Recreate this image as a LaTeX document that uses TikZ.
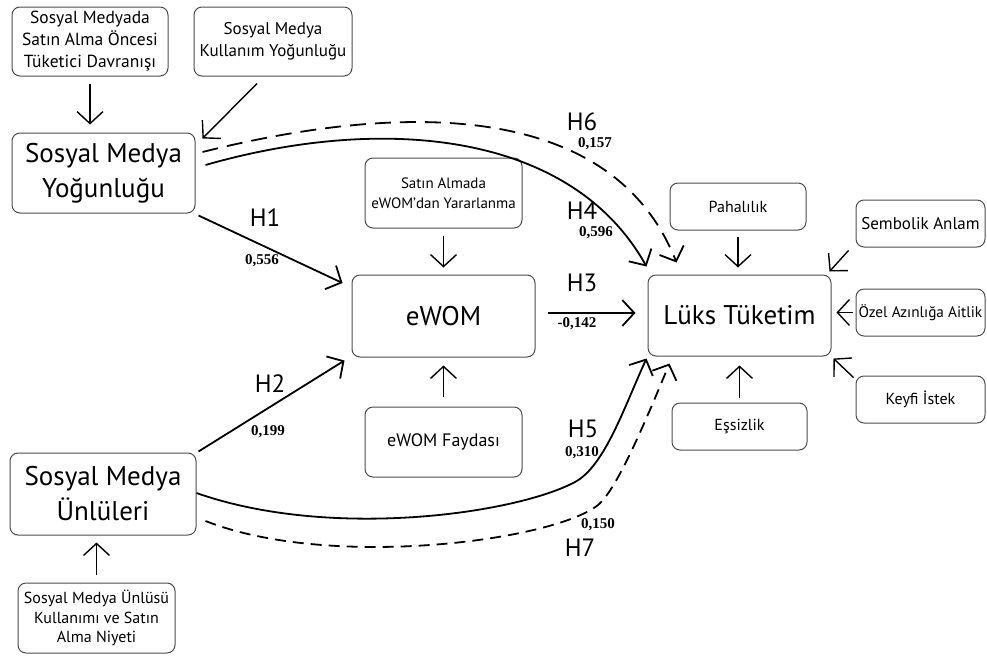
\documentclass[tikz,border=0pt]{standalone}
\usepackage{fontspec}
\setmainfont{PT Sans}
\newfontfamily\numfont{Liberation Serif}
\usetikzlibrary{arrows.meta,calc}

\begin{document}
\begin{tikzpicture}[x=1pt,y=-1pt,
  box/.style={draw=black!70,line width=1pt,rounded corners=8pt,align=center,inner sep=0pt},
  big/.style={box,font=\fontsize{27}{35}\selectfont},
  small/.style={box,font=\fontsize{16}{21}\selectfont},
  smaller/.style={box,font=\fontsize{15}{19.5}\selectfont},
  hyp/.style={font=\fontsize{25}{25}\selectfont,inner sep=0pt},
  coef/.style={font=\numfont\bfseries\fontsize{15}{15}\selectfont,inner sep=0pt},
  tip/.style={-{Straight Barb[length=12pt,width=26pt]}},
  link/.style={tip,line width=1.8pt},
  feed/.style={tip,line width=1.4pt},
]
\useasboundingbox (0,0) rectangle (987,656);

% constructs
\node[small,font=\fontsize{17.5}{22}\selectfont,minimum width=156pt,minimum height=69pt] (pre) at (90,41.5) {Sosyal Medyada\\Satın Alma Öncesi\\Tüketici Davranışı};
\node[small,font=\fontsize{17}{22}\selectfont,minimum width=158pt,minimum height=69pt] (kul) at (273,41.5) {Sosyal Medya\\Kullanım Yoğunluğu};
\node[big,minimum width=183pt,minimum height=80pt] (smy) at (103.5,173) {Sosyal Medya\\Yoğunluğu};
\node[big,minimum width=183pt,minimum height=82pt] (ewom) at (443.5,316) {eWOM};
\node[smaller,minimum width=157pt,minimum height=70pt] (yar) at (443.5,193) {Satın Almada\\eWOM’dan Yararlanma};
\node[small,font=\fontsize{18}{22}\selectfont,minimum width=157pt,minimum height=70pt] (fay) at (443.5,442) {eWOM Faydası};
\node[big,minimum width=183pt,minimum height=81pt] (luks) at (739.5,315.5) {Lüks Tüketim};
\node[small,minimum width=136pt,minimum height=47pt] (pah) at (738,206.5) {Pahalılık};
\node[small,minimum width=135pt,minimum height=47pt] (ess) at (739.5,426.5) {Eşsizlik};
\node[small,font=\fontsize{17}{21}\selectfont,minimum width=129pt,minimum height=47pt] (sem) at (920.5,223.5) {Sembolik Anlam};
\node[small,font=\fontsize{15.3}{20}\selectfont,minimum width=129pt,minimum height=47pt] (ozel) at (920.5,312.5) {Özel Azınlığa Aitlik};
\node[small,minimum width=129pt,minimum height=47pt] (keyf) at (920.5,399.5) {Keyfi İstek};
\node[big,minimum width=186pt,minimum height=82pt] (unl) at (103,494) {Sosyal Medya\\Ünlüleri};
\node[smaller,font=\fontsize{16}{19.5}\selectfont,minimum width=157pt,minimum height=70pt] (niy) at (96.5,618) {Sosyal Medya Ünlüsü\\Kullanımı ve Satın\\Alma Niyeti};

% antecedent arrows
\draw[feed,shorten <=7pt,shorten >=8pt] (pre.south) -- (pre.south |- smy.north);
\draw[feed] ($(kul.south)+(-16,7)$) -- ($(smy.north east)+(7,6)$);
\draw[feed,shorten <=7pt,shorten >=7pt] (yar.south) -- (ewom.north);
\draw[feed,shorten <=10pt,shorten >=8pt] (fay.north) -- (ewom.south);
\draw[feed,shorten <=6pt,shorten >=7pt] (pah.south) -- (pah.south |- luks.north);
\draw[feed,shorten <=5pt,shorten >=9pt] (ess.north) -- (ess.north |- luks.south);
\draw[feed] ($(sem.south west)+(-7,3)$) -- ($(luks.north east)+(-2,-3)$);
\draw[feed,shorten <=3pt,shorten >=5pt] (ozel.west) -- (ozel.west -| luks.east);
\draw[feed] ($(keyf.north west)+(-2,2)$) -- ($(luks.south east)+(2,2)$);
\draw[feed,shorten <=8pt,shorten >=7pt] (niy.north) -- (niy.north |- unl.south);

% hypothesised paths
\draw[link] ($(smy.south east)+(3,2)$) -- ($(ewom.west)+(-9,-33)$);
\draw[link] ($(unl.north east)+(2,-1)$) -- ($(ewom.south west)+(-7,3)$);
\draw[link] ($(ewom.east)+(12,-3)$) -- ($(luks.west)+(-12,-2.5)$);
\draw[link] ($(smy.east)+(10,-8)$) .. controls (380,115) and (570,130) .. ($(luks.north west)+(-1,-8)$);
\draw[link,dash pattern=on 16pt off 9pt] ($(smy.east)+(7,-21)$) .. controls (390,105) and (610,95) .. ($(luks.north west)+(29,-12)$);
\draw[link] ($(unl.east)+(0,-1)$) .. controls (330,540) and (515,514) .. (575,482) .. controls (605,466) and (625,405) .. ($(luks.south west)+(-1,2)$);
\draw[link,dash pattern=on 11pt off 7pt] ($(unl.east)+(9,27)$) .. controls (330,570) and (553,541) .. (598,505) .. controls (618,489) and (650,410) .. ($(luks.south west)+(22,7)$);

% hypothesis labels and coefficients
\node[hyp] (h1) at (265,218) {H1};
\node[coef] (c1) at (262,261) {0,556};
\node[hyp] (h2) at (270,384) {H2};
\node[coef] (c2) at (268,432) {0,199};
\node[hyp] (h3) at (582,283) {H3};
\node[coef] (c3) at (577,324) {-0,142};
\node[hyp] (h4) at (582,211) {H4};
\node[coef] (c4) at (596,233) {0,596};
\node[hyp] (h5) at (583,429) {H5};
\node[coef] (c5) at (582,453) {0,310};
\node[hyp] (h6) at (582,122) {H6};
\node[coef] (c6) at (595,144) {0,157};
\node[hyp] (h7) at (580,548) {H7};
\node[coef] (c7) at (598,525) {0,150};
\end{tikzpicture}
\end{document}
